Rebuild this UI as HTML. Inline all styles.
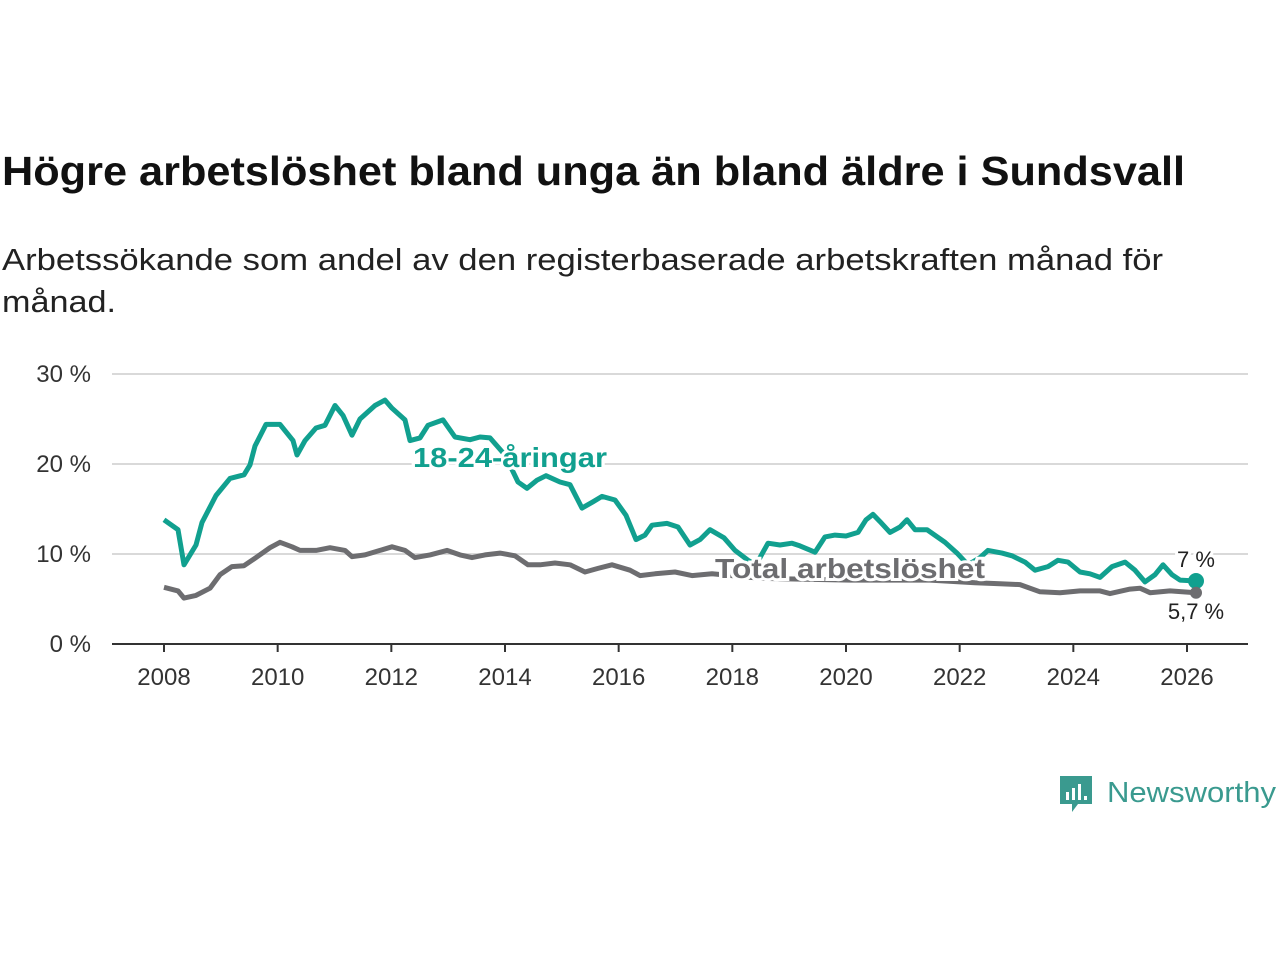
<!DOCTYPE html>
<html><head><meta charset="utf-8"><style>
body{margin:0;width:1280px;height:960px;background:#fff;font-family:"Liberation Sans",sans-serif;overflow:hidden}
</style></head><body>
<svg width="1280" height="960">
<text x="2" y="185" font-size="41" font-weight="bold" fill="#111" textLength="1183" lengthAdjust="spacingAndGlyphs">Högre arbetslöshet bland unga än bland äldre i Sundsvall</text>
<text x="2" y="270" font-size="31" fill="#222" textLength="1161" lengthAdjust="spacingAndGlyphs">Arbetssökande som andel av den registerbaserade arbetskraften månad för</text>
<text x="2" y="312" font-size="31" fill="#222" textLength="114" lengthAdjust="spacingAndGlyphs">månad.</text>
<g id="grid"></g><g id="axis"></g><g id="lines"></g><g id="labels"></g>
<g>
<path d="M1060 776h32v28h-14l-6 8v-8h-12z" fill="#3a9a8f"/>
<rect x="1066" y="792" width="3" height="8" fill="#fff"/><rect x="1072" y="788" width="3" height="12" fill="#fff"/><rect x="1078" y="784" width="3" height="16" fill="#fff"/><rect x="1084" y="796" width="3" height="4" fill="#fff"/>
<text x="1107" y="802" font-size="29" fill="#3a9a8f" textLength="169" lengthAdjust="spacingAndGlyphs">Newsworthy</text>
</g>
</svg>
<script>
const yTicks=[0,10,20,30];
const xTicks=[2008,2010,2012,2014,2016,2018,2020,2022,2024,2026];
const youthX=[164,178,184,196,202,216,230,244,250,255,266,280,293,297,305,316,325,335,343,352,360,375,385,392,405,410,420,428,443,455,470,480,490,505,518,527,537,546,560,570,582,593,602,615,626,636,645,652,667,678,690,700,710,724,735,748,756,768,780,792,800,815,825,835,846,858,866,873,880,890,900,907,915,927,945,957,968,980,988,1002,1012,1025,1035,1048,1058,1068,1080,1090,1100,1112,1125,1135,1145,1155,1163,1172,1180,1196];
const youthV=[13.8,12.7,8.8,11,13.5,16.5,18.4,18.8,19.9,22,24.4,24.4,22.6,21,22.6,24,24.3,26.5,25.4,23.2,25,26.5,27.1,26.2,24.9,22.6,22.9,24.3,24.9,23,22.7,23,22.9,21,18,17.3,18.2,18.7,18,17.7,15.1,15.8,16.4,16,14.3,11.6,12.1,13.2,13.4,13,11,11.6,12.7,11.8,10.4,9.3,8.8,11.2,11,11.2,10.9,10.2,11.9,12.1,12,12.4,13.8,14.4,13.6,12.4,13,13.8,12.7,12.7,11.3,10.1,8.8,9.6,10.4,10.1,9.8,9.1,8.2,8.6,9.3,9.1,8,7.8,7.4,8.6,9.1,8.2,6.9,7.7,8.8,7.7,7.1,7.0];
const totalX=[164,178,184,196,210,220,232,244,256,270,280,292,300,316,330,345,352,365,380,392,405,415,430,447,460,472,485,500,515,528,540,555,570,585,598,612,630,640,655,675,692,712,760,850,930,975,1000,1020,1040,1060,1080,1100,1110,1130,1140,1150,1170,1196];
const totalV=[6.3,5.9,5.1,5.4,6.2,7.7,8.6,8.7,9.6,10.7,11.3,10.8,10.4,10.4,10.7,10.4,9.7,9.9,10.4,10.8,10.4,9.6,9.9,10.4,9.9,9.6,9.9,10.1,9.8,8.8,8.8,9,8.8,8,8.4,8.8,8.2,7.6,7.8,8,7.6,7.8,7.3,7.1,7.1,6.8,6.7,6.6,5.8,5.7,5.9,5.9,5.6,6.1,6.2,5.7,5.9,5.7];
const NS="http://www.w3.org/2000/svg";
const y=v=>644-v*9;
const yr0=2008,px0=164,pxYr=(1187-164)/18;
const xs=t=>px0+(t-yr0)*pxYr;
const toYear=p=>yr0+(p-px0)/pxYr;
function mk(tag,attrs,parent){const e=document.createElementNS(NS,tag);for(const k in attrs)e.setAttribute(k,attrs[k]);parent.appendChild(e);return e;}
const grid=document.getElementById('grid'),axis=document.getElementById('axis'),lines=document.getElementById('lines'),labels=document.getElementById('labels');
yTicks.forEach(v=>{
 if(v>0){const l=mk('line',{x1:112,x2:1248,y1:y(v),y2:y(v),stroke:'#d9d9d9','stroke-width':2},grid);
 
 }
 const t=mk('text',{x:91,y:y(v)+8,'text-anchor':'end','font-size':24,fill:'#333'},grid);t.textContent=v+' %';
 
 
});
const ax=mk('line',{x1:112,x2:1248,y1:644,y2:644,stroke:'#333','stroke-width':2},axis);


xTicks.forEach(t=>{const tk=mk('line',{x1:xs(t),x2:xs(t),y1:644,y2:652,stroke:'#333','stroke-width':2},axis);
 
 
 const tx=mk('text',{x:xs(t),y:685,'text-anchor':'middle','font-size':24,fill:'#333'},axis);tx.textContent=t;
 
 });
function path(X,V){return X.map((p,i)=>(i?'L':'M')+xs(toYear(p)).toFixed(1)+' '+y(V[i]).toFixed(1)).join(' ');}
const tl=mk('path',{d:path(totalX,totalV),fill:'none',stroke:'#6d6d70','stroke-width':5,'stroke-linejoin':'round'},lines);


const yl=mk('path',{d:path(youthX,youthV),fill:'none',stroke:'#11a08f','stroke-width':5,'stroke-linejoin':'round'},lines);


const lx=xs(toYear(youthX[youthX.length-1]));
const d1=mk('circle',{cx:lx,cy:y(youthV[youthV.length-1]),r:8,fill:'#11a08f'},lines);


const d2=mk('circle',{cx:lx,cy:y(totalV[totalV.length-1]),r:6,fill:'#6d6d70'},lines);


function lab(txt,x,yy,fill,size,bold,anchor,name,len){const t=mk('text',{x:x,y:yy,'font-size':size,fill:fill,'font-weight':bold?'bold':'normal','text-anchor':anchor,stroke:'#fff','stroke-width':6,'paint-order':'stroke'},labels);t.textContent=txt;
 if(len){t.setAttribute('textLength',len);t.setAttribute('lengthAdjust','spacingAndGlyphs');}
 
 }
lab('18-24-åringar',413,467,'#11a08f',28,true,'start','youth-series-label',194);
lab('Total arbetslöshet',715,578,'#6d6d70',28,true,'start','total-series-label',270);
lab('7 %',1196,567,'#222',22,false,'middle','youth-end-value');
lab('5,7 %',1196,619,'#222',22,false,'middle','total-end-value');
</script>
</body></html>
